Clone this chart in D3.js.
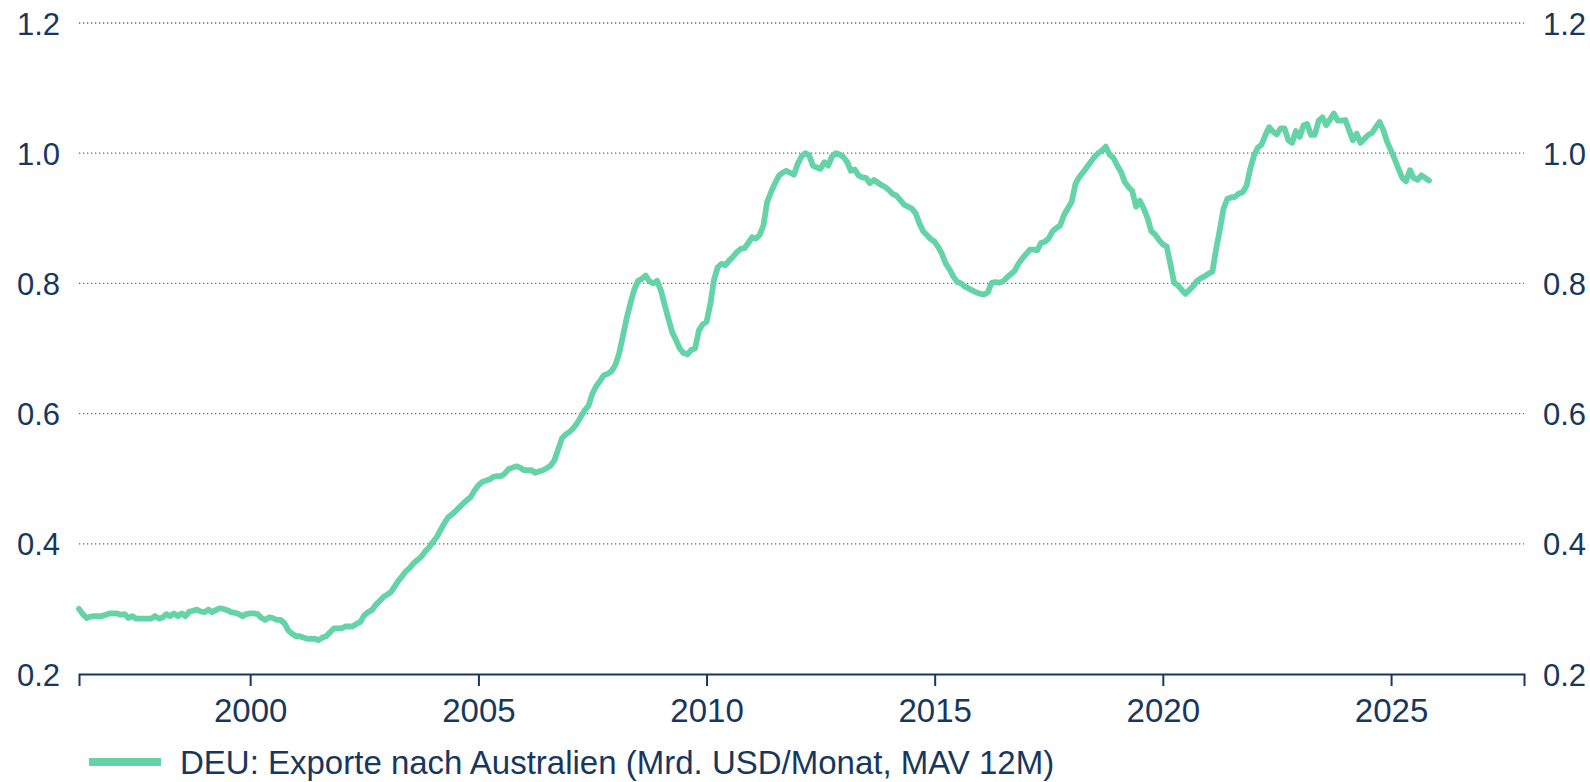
<!DOCTYPE html>
<html>
<head>
<meta charset="utf-8">
<script src="https://cdn.jsdelivr.net/npm/d3@7"></script>
<style>
  body { margin: 0; background: #fff; }
  svg text { font-family: "Liberation Sans", Arial, sans-serif; fill: #17375e; }
</style>
</head>
<body>
<div id="chart"></div>
<script>
// monthly values, Mrd. USD, first month = April 1996
var startMonth = "1996-04";
var values1996 = [0.300, 0.292, 0.286, 0.288, 0.289, 0.289, 0.289, 0.291, 0.293];
var values1997_2005 = [
  0.293, 0.293, 0.291, 0.292, 0.286, 0.289, 0.285, 0.285, 0.285, 0.285, 0.285, 0.289,
  0.285, 0.287, 0.292, 0.289, 0.293, 0.289, 0.293, 0.289, 0.296, 0.297, 0.299, 0.296,
  0.295, 0.299, 0.295, 0.298, 0.301, 0.300, 0.298, 0.295, 0.294, 0.292, 0.289, 0.292,
  0.293, 0.293, 0.292, 0.286, 0.283, 0.287, 0.286, 0.283, 0.283, 0.278, 0.267, 0.262,
  0.258, 0.258, 0.256, 0.254, 0.254, 0.254, 0.252, 0.256, 0.258, 0.264, 0.270, 0.270,
  0.270, 0.273, 0.273, 0.273, 0.277, 0.280, 0.290, 0.295, 0.298, 0.306, 0.312, 0.318,
  0.322, 0.326, 0.334, 0.343, 0.350, 0.358, 0.363, 0.370, 0.375, 0.380, 0.388, 0.394,
  0.402, 0.410, 0.420, 0.431, 0.440, 0.445, 0.450, 0.456, 0.462, 0.467, 0.472, 0.482,
  0.490, 0.495, 0.497, 0.499, 0.503, 0.504, 0.504, 0.508, 0.515, 0.517, 0.519, 0.517
];
var values2006_2015 = [
  0.513, 0.513, 0.513, 0.509, 0.511, 0.513, 0.516, 0.520, 0.528, 0.545, 0.562, 0.568,
  0.572, 0.578, 0.585, 0.595, 0.605, 0.612, 0.630, 0.642, 0.650, 0.659, 0.661, 0.665,
  0.674, 0.692, 0.718, 0.746, 0.769, 0.790, 0.804, 0.807, 0.812, 0.803, 0.800, 0.804,
  0.789, 0.766, 0.746, 0.725, 0.713, 0.700, 0.693, 0.691, 0.698, 0.700, 0.728, 0.737,
  0.741, 0.769, 0.805, 0.825, 0.830, 0.828, 0.835, 0.841, 0.848, 0.853, 0.854, 0.862,
  0.871, 0.869, 0.874, 0.889, 0.925, 0.940, 0.953, 0.965, 0.970, 0.973, 0.970, 0.967,
  0.984, 0.995, 1.000, 0.997, 0.981, 0.978, 0.976, 0.986, 0.981, 0.995, 1.000, 0.998,
  0.994, 0.986, 0.973, 0.975, 0.966, 0.963, 0.962, 0.954, 0.959, 0.955, 0.951, 0.948,
  0.943, 0.937, 0.935, 0.928, 0.921, 0.918, 0.915, 0.908, 0.892, 0.880, 0.874, 0.868,
  0.864, 0.855, 0.845, 0.830, 0.821, 0.810, 0.802, 0.800, 0.795, 0.792, 0.789, 0.786
];
var values2016_2025 = [
  0.784, 0.783, 0.786, 0.801, 0.802, 0.801, 0.803, 0.809, 0.814, 0.819, 0.830, 0.838,
  0.845, 0.852, 0.852, 0.851, 0.862, 0.864, 0.869, 0.880, 0.885, 0.889, 0.905, 0.915,
  0.925, 0.953, 0.963, 0.970, 0.978, 0.986, 0.994, 1.000, 1.004, 1.010, 0.998, 0.993,
  0.981, 0.971, 0.956, 0.948, 0.942, 0.918, 0.927, 0.915, 0.900, 0.880, 0.875, 0.867,
  0.860, 0.857, 0.830, 0.801, 0.797, 0.790, 0.784, 0.790, 0.796, 0.804, 0.808, 0.811,
  0.815, 0.818, 0.851, 0.882, 0.915, 0.930, 0.932, 0.933, 0.938, 0.940, 0.950, 0.976,
  0.997, 1.009, 1.013, 1.028, 1.040, 1.033, 1.029, 1.038, 1.038, 1.020, 1.016, 1.034,
  1.025, 1.043, 1.045, 1.028, 1.028, 1.050, 1.055, 1.043, 1.052, 1.061, 1.050, 1.050,
  1.051, 1.035, 1.020, 1.030, 1.016, 1.022, 1.028, 1.031, 1.040, 1.048, 1.035, 1.017,
  1.004, 0.990, 0.976, 0.962, 0.957, 0.974, 0.962, 0.959, 0.966, 0.962, 0.958
];
var yTicks = [0.2, 0.4, 0.6, 0.8, 1.0, 1.2];
var xTickYears = [2000, 2005, 2010, 2015, 2020, 2025];
var seriesName = "DEU: Exporte nach Australien (Mrd. USD/Monat, MAV 12M)";

var W = 1590, H = 782;
var margin = {left: 79, right: 66, top: 23, bottom: 108};
var lineColor = "#64d3a8", inkColor = "#17375e";
var fontSize = "33px";

var parseMonth = d3.timeParse("%Y-%m");
var allValues = values1996.concat(values1997_2005, values2006_2015, values2016_2025);
var t0 = parseMonth(startMonth);
var data = allValues.map(function(v, i) {
  return {date: d3.timeMonth.offset(t0, i), value: v};
});

var x = d3.scaleTime()
  .domain([t0, new Date(2027, 11, 1)])
  .range([margin.left, W - margin.right]);
var y = d3.scaleLinear()
  .domain([0.2, 1.2])
  .range([H - margin.bottom, margin.top]);

var svg = d3.select("#chart").append("svg")
  .attr("width", W)
  .attr("height", H);

// dotted gridlines
svg.append("g").selectAll("line")
  .data(yTicks.filter(function(d) { return d > 0.2; }))
  .enter().append("line")
  .attr("x1", margin.left)
  .attr("x2", W - margin.right)
  .attr("y1", function(d) { return y(d); })
  .attr("y2", function(d) { return y(d); })
  .attr("stroke", "#666")
  .attr("stroke-width", 1.3)
  .attr("stroke-dasharray", "1.3,2.7");

// left and right value labels
var fmt = d3.format(".1f");
svg.append("g").selectAll("text")
  .data(yTicks)
  .enter().append("text")
  .attr("x", 60)
  .attr("y", function(d) { return y(d) + 11.5; })
  .attr("text-anchor", "end")
  .style("font-size", "31px")
  .text(fmt);
svg.append("g").selectAll("text")
  .data(yTicks)
  .enter().append("text")
  .attr("x", 1543)
  .attr("y", function(d) { return y(d) + 11.5; })
  .attr("text-anchor", "start")
  .style("font-size", "31px")
  .text(fmt);

// bottom axis
var xAxis = d3.axisBottom(x)
  .tickValues(xTickYears.map(function(yr) { return new Date(yr, 0, 1); }))
  .tickFormat(d3.timeFormat("%Y"))
  .tickSize(12)
  .tickPadding(13);
var gx = svg.append("g")
  .attr("transform", "translate(0," + y(0.2) + ")")
  .call(xAxis);
gx.select(".domain").attr("stroke", inkColor).attr("stroke-width", 2);
gx.selectAll(".tick line").attr("stroke", inkColor).attr("stroke-width", 2);
gx.selectAll(".tick text")
  .style("font-size", fontSize)
  .style("font-family", "'Liberation Sans', Arial, sans-serif")
  .attr("fill", inkColor);

// the series
var line = d3.line()
  .x(function(d) { return x(d.date); })
  .y(function(d) { return y(d.value); });
svg.append("path")
  .datum(data)
  .attr("d", line)
  .attr("fill", "none")
  .attr("stroke", lineColor)
  .attr("stroke-width", 5.8)
  .attr("stroke-linejoin", "round")
  .attr("stroke-linecap", "round");

// legend
var legend = svg.append("g").attr("transform", "translate(89,762)");
legend.append("line")
  .attr("x1", 0).attr("x2", 72)
  .attr("stroke", lineColor)
  .attr("stroke-width", 8);
legend.append("text")
  .attr("x", 91)
  .attr("y", 11.5)
  .style("font-size", fontSize)
  .text(seriesName);
</script>
</body>
</html>
